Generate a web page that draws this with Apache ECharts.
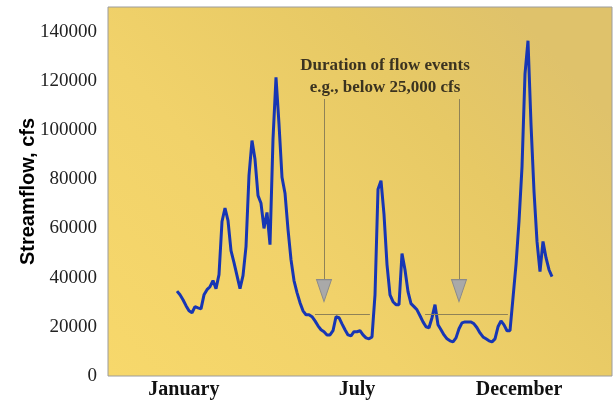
<!DOCTYPE html>
<html>
<head>
<meta charset="utf-8">
<script src="https://cdn.jsdelivr.net/npm/echarts@6/dist/echarts.min.js"></script>
<style>
html,body{margin:0;padding:0;background:#fff;}
#chart{width:614px;height:400px;}
</style>
</head>
<body>
<div id="chart"></div>
<script>
// ---- data ----
const monthLabels = ['January', 'July', 'December'];
const monthPos = [25.3, 83, 137];          // positions on the x (reading index) scale
const flowStart = 23;                      // index of first reading
const flow = [
  34500, 33000, 31000, 28600, 26500, 25700, 28200, 27700, 27300, 33000,
  35100, 36300, 38800, 35500, 41200, 62800, 68300, 63200, 51000, 46100,
  40800, 35500, 40800, 52600, 81600, 95700, 88100, 73400, 70200, 60000,
  66500, 53400, 96300, 121400, 102400, 80800, 74300, 59600, 47300, 38800,
  33900, 29800, 26500, 24900, 24900, 24100, 22400, 20400, 18800, 18000,
  16700, 16700, 18400, 24100, 23700, 21200, 18800, 16700, 16300, 18000,
  18000, 18400, 16700, 15500, 15100, 15900, 33000, 75900, 79400, 65700,
  45300, 33000, 30200, 29000, 29000, 49800, 43200, 34300, 29400, 28200,
  26900, 24500, 22000, 20000, 19600, 23700, 29000, 20800, 18800, 16700,
  15100, 14300, 13900, 15500, 19200, 21600, 22000, 22000, 22000, 21200,
  19600, 17500, 15900, 15100, 14300, 13900, 15100, 20000, 22400, 20800,
  18400, 18400, 31800, 45300, 62800, 84900, 122800, 136300, 102400, 75100,
  54700, 42400, 54700, 48100, 43200, 40400
];
const threshold = 25000;
const thresholdSpans = [[69, 87.3], [105.7, 133.3]];
const arrowX = [72, 117];
const arrowTopValue = 112600;
const arrowHeadValue = 34700;
const annotation = ['Duration of flow events', 'e.g., below 25,000 cfs'];

// ---- chart ----
const chart = echarts.init(document.getElementById('chart'), null, {renderer: 'canvas'});
const seriesData = flow.map((v, k) => [flowStart + k, v]);

const markLines = [];
thresholdSpans.forEach(s => markLines.push([{coord: [s[0], threshold]}, {coord: [s[1], threshold]}]));
arrowX.forEach(x => markLines.push([{coord: [x, arrowTopValue]}, {coord: [x, arrowHeadValue + 4000]}]));

chart.setOption({
  animation: false,
  backgroundColor: '#ffffff',
  grid: {
    left: 108, right: 2, top: 7, bottom: 24,
    show: true,
    borderColor: '#9c9c9c',
    borderWidth: 1,
    backgroundColor: {
      type: 'linear', x: 0, y: 1, x2: 0.8, y2: 0,
      colorStops: [
        {offset: 0, color: '#F7D86B'},
        {offset: 0.4, color: '#F1D26A'},
        {offset: 0.75, color: '#E7C965'},
        {offset: 1, color: '#DFC26B'}
      ]
    }
  },
  xAxis: {
    type: 'value', min: 0, max: 168,
    axisLine: {show: false},
    axisTick: {show: false},
    splitLine: {show: false},
    axisLabel: {
      customValues: monthPos,
      formatter: v => {
        const i = monthPos.indexOf(v);
        return i >= 0 ? monthLabels[i] : '';
      },
      fontFamily: 'Liberation Serif',
      fontWeight: 'bold',
      fontSize: 20,
      color: '#111',
      margin: 4
    }
  },
  yAxis: {
    type: 'value', min: 0, max: 150000, interval: 20000,
    name: 'Streamflow, cfs',
    nameLocation: 'middle',
    nameGap: 70,
    nameMoveOverlap: false,
    nameTextStyle: {fontFamily: 'Liberation Sans', fontWeight: 'bold', fontSize: 20, color: '#000'},
    axisLine: {show: false},
    axisTick: {show: false},
    splitLine: {show: false},
    axisLabel: {
      formatter: v => (v > 140000 ? '' : String(v)),
      fontFamily: 'Liberation Serif',
      fontSize: 19,
      color: '#222',
      margin: 11
    }
  },
  graphic: [{
    type: 'text',
    x: 385, y: 55,
    style: {
      text: annotation.join('\n'),
      align: 'center',
      verticalAlign: 'top',
      font: 'bold 17px "Liberation Serif"',
      lineHeight: 22,
      fill: '#3b3320'
    }
  }],
  series: [{
    type: 'line',
    data: seriesData,
    showSymbol: false,
    lineStyle: {color: '#1736B4', width: 3},
    z: 3,
    markLine: {
      silent: true,
      symbol: 'none',
      label: {show: false},
      lineStyle: {color: '#8f8257', width: 1, type: 'solid'},
      data: markLines
    },
    markPoint: {
      silent: true,
      symbol: 'triangle',
      symbolSize: [15, 22],
      symbolRotate: 180,
      label: {show: false},
      itemStyle: {color: '#a9a9a9', borderColor: '#8a8a8a', borderWidth: 1},
      data: arrowX.map(x => ({coord: [x, arrowHeadValue]}))
    }
  }]
});
</script>
</body>
</html>
